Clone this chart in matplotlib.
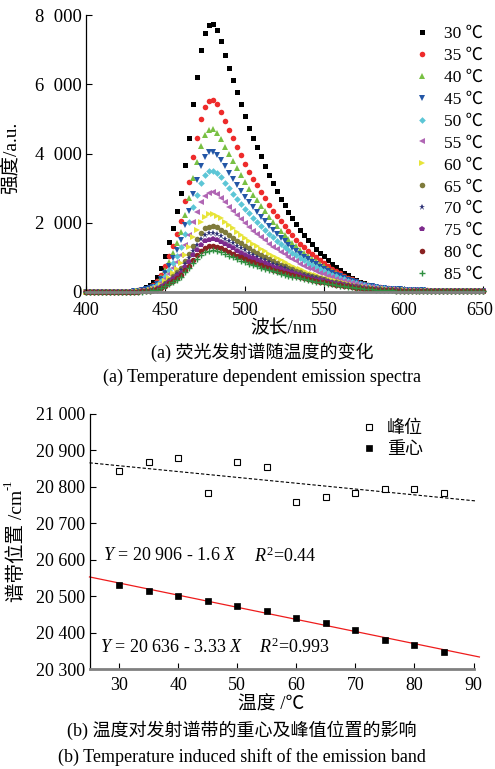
import numpy as np
import matplotlib
matplotlib.use("Agg")
import matplotlib.pyplot as plt
import matplotlib.transforms as mtransforms
from matplotlib.ticker import FuncFormatter, MultipleLocator
from matplotlib.lines import Line2D

plt.rcParams['font.family'] = ['Liberation Serif', 'Noto Sans CJK SC']
plt.rcParams['mathtext.fontset'] = 'custom'
plt.rcParams['mathtext.rm'] = 'Liberation Serif'
plt.rcParams['mathtext.it'] = 'Liberation Serif:italic'

# ---------------- data: emission spectra (wavelength grid 400..650 nm, 2.5 nm step) -------------
wl_start, wl_step = 400.0, 2.5
baseline = [12, 10, 11, 9, 12, 10, 11, 9, 10, 12, 11, 13]   # 400 - 427.5 nm

int_30 = baseline + [40, 62, 93, 140, 210, 295, 425, 700, 1045, 1435, 1860, 2325, 2870, 3680, 4455, 5425, 6200, 6975, 7480, 7710, 7750,
                     7556, 7246, 6859, 6471, 6123, 5774, 5425, 5076, 4743, 4456, 4185, 3914, 3643, 3387, 3139, 2906, 2697, 2503, 2310, 2131,
                     1961, 1798, 1651, 1511, 1380, 1256, 1139, 1031, 922, 822, 729, 643, 558, 481, 411, 349, 295, 248, 209, 178,
                     155, 132, 116, 101, 93, 85, 78, 70,
                     65, 60, 56, 52, 48, 45, 42, 40, 38, 36, 34, 32, 31, 30, 29, 28, 27, 26, 25, 24]
int_35 = baseline + [28, 44, 67, 100, 150, 211, 305, 500, 749, 1027, 1332, 1665, 2054, 2636, 3191, 3885, 4440, 4995, 5356, 5522, 5550,
                     5422, 5211, 4945, 4679, 4434, 4190, 3946, 3707, 3478, 3275, 3080, 2892, 2703, 2523, 2348, 2187, 2039, 1900, 1762, 1634,
                     1512, 1394, 1286, 1184, 1088, 997, 910, 829, 748, 673, 603, 538, 474, 415, 362, 313, 270, 232, 200, 173,
                     152, 132, 118, 103, 94, 85, 78, 70,
                     64, 59, 55, 51, 47, 44, 41, 39, 37, 35, 33, 31, 30, 29, 28, 27, 26, 25, 24, 23]
int_40 = baseline + [24, 38, 56, 85, 127, 179, 259, 423, 635, 870, 1128, 1410, 1739, 2233, 2703, 3290, 3760, 4230, 4536, 4677, 4700,
                     4597, 4423, 4202, 3981, 3776, 3572, 3368, 3170, 2979, 2808, 2644, 2486, 2329, 2178, 2030, 1896, 1772, 1655, 1537, 1429,
                     1326, 1226, 1134, 1046, 964, 885, 811, 741, 671, 605, 545, 489, 433, 382, 335, 292, 253, 219, 190, 166,
                     146, 128, 114, 101, 92, 83, 75, 68,
                     62, 57, 53, 49, 46, 43, 40, 38, 36, 34, 32, 30, 29, 28, 27, 26, 25, 24, 23, 22]
int_45 = baseline + [20, 32, 49, 73, 109, 154, 223, 365, 547, 749, 972, 1215, 1499, 1924, 2329, 2835, 3240, 3645, 3908, 4030, 4050,
                     3965, 3819, 3633, 3447, 3272, 3098, 2924, 2758, 2597, 2450, 2309, 2175, 2041, 1912, 1786, 1673, 1567, 1465, 1364, 1271,
                     1182, 1095, 1015, 939, 867, 799, 733, 671, 610, 552, 499, 450, 400, 355, 313, 275, 240, 209, 182, 160,
                     141, 124, 111, 98, 89, 80, 73, 66,
                     60, 56, 52, 48, 45, 42, 39, 37, 35, 33, 31, 30, 29, 28, 27, 26, 25, 24, 23, 22]
int_50 = baseline + [18, 28, 42, 63, 95, 133, 193, 315, 473, 648, 840, 1050, 1295, 1663, 2013, 2450, 2800, 3150, 3378, 3483, 3500,
                     3430, 3308, 3150, 2993, 2844, 2695, 2546, 2406, 2270, 2144, 2021, 1908, 1794, 1684, 1575, 1479, 1388, 1300, 1213, 1132,
                     1055, 980, 910, 844, 781, 721, 663, 609, 555, 504, 457, 413, 369, 329, 292, 257, 226, 198, 173, 152,
                     135, 119, 107, 95, 86, 77, 70, 63,
                     58, 54, 50, 47, 44, 41, 38, 36, 34, 32, 30, 29, 28, 27, 26, 25, 24, 23, 22, 21]
int_55 = baseline + [14, 23, 35, 52, 78, 109, 158, 259, 389, 533, 691, 864, 1066, 1368, 1656, 2016, 2304, 2592, 2779, 2866, 2880,
                     2824, 2724, 2596, 2468, 2347, 2225, 2103, 1990, 1878, 1775, 1674, 1581, 1488, 1398, 1309, 1231, 1156, 1084, 1012, 946,
                     882, 820, 762, 707, 655, 606, 558, 513, 468, 426, 386, 350, 314, 280, 249, 220, 194, 170, 149, 131,
                     116, 103, 92, 82, 74, 67, 60, 54,
                     50, 47, 44, 41, 38, 36, 34, 32, 30, 29, 28, 27, 26, 25, 24, 23, 22, 21, 20, 20]
int_60 = baseline + [11, 18, 27, 41, 61, 86, 124, 203, 304, 416, 540, 675, 833, 1069, 1294, 1575, 1800, 2025, 2171, 2239, 2250,
                     2207, 2131, 2032, 1933, 1838, 1744, 1649, 1562, 1476, 1395, 1316, 1244, 1172, 1102, 1033, 972, 914, 858, 801, 750,
                     700, 652, 606, 563, 522, 483, 446, 410, 374, 341, 310, 281, 252, 226, 202, 178, 157, 138, 122, 107,
                     95, 84, 76, 67, 61, 54, 50, 45,
                     42, 40, 38, 36, 34, 32, 30, 29, 28, 27, 26, 25, 24, 23, 22, 21, 20, 20, 19, 19]
int_65 = baseline + [10, 15, 23, 34, 51, 72, 105, 171, 257, 352, 456, 570, 703, 903, 1093, 1330, 1520, 1710, 1834, 1891, 1900,
                     1866, 1803, 1721, 1640, 1561, 1482, 1403, 1331, 1260, 1192, 1126, 1066, 1006, 947, 889, 839, 790, 743, 695, 652,
                     610, 568, 530, 493, 458, 425, 392, 362, 331, 302, 276, 251, 226, 203, 182, 161, 143, 126, 111, 98,
                     87, 78, 70, 62, 56, 50, 46, 41,
                     39, 37, 35, 33, 31, 30, 29, 28, 27, 26, 25, 24, 23, 22, 21, 20, 20, 19, 19, 18]
int_70 = baseline + [9, 14, 20, 31, 46, 65, 94, 153, 230, 315, 408, 510, 629, 808, 978, 1190, 1360, 1530, 1641, 1692, 1700,
                     1671, 1617, 1545, 1474, 1404, 1335, 1265, 1202, 1140, 1080, 1020, 967, 915, 863, 811, 767, 724, 681, 639, 599,
                     562, 525, 490, 457, 425, 395, 366, 338, 310, 284, 259, 236, 214, 192, 173, 154, 137, 121, 107, 95,
                     84, 75, 68, 60, 54, 49, 44, 40,
                     38, 36, 34, 32, 31, 30, 29, 28, 27, 26, 25, 24, 23, 22, 21, 20, 20, 19, 19, 18]
int_75 = baseline + [8, 12, 18, 27, 41, 58, 84, 137, 205, 281, 365, 456, 562, 722, 874, 1064, 1216, 1368, 1467, 1512, 1520,
                     1495, 1447, 1384, 1321, 1259, 1197, 1135, 1080, 1025, 971, 918, 871, 824, 778, 732, 693, 654, 616, 578, 543,
                     510, 477, 445, 415, 387, 360, 333, 308, 283, 259, 237, 217, 196, 177, 159, 142, 126, 112, 99, 88,
                     78, 70, 63, 56, 51, 45, 41, 37,
                     35, 34, 32, 31, 30, 29, 28, 27, 26, 25, 24, 23, 22, 21, 20, 20, 19, 19, 18, 18]
int_80 = baseline + [7, 11, 16, 24, 36, 51, 73, 120, 180, 246, 319, 399, 492, 632, 765, 931, 1064, 1197, 1283, 1323, 1330,
                     1309, 1267, 1213, 1158, 1105, 1051, 997, 949, 901, 855, 808, 767, 727, 687, 646, 612, 579, 546, 512, 482,
                     453, 423, 396, 369, 344, 321, 297, 275, 253, 232, 212, 194, 176, 159, 144, 128, 114, 101, 90, 80,
                     71, 63, 57, 51, 46, 41, 37, 34,
                     32, 31, 30, 29, 28, 27, 26, 25, 24, 23, 22, 21, 21, 20, 20, 19, 19, 18, 18, 17]
int_85 = baseline + [6, 10, 14, 22, 32, 46, 66, 108, 162, 222, 288, 360, 444, 570, 690, 840, 960, 1080, 1158, 1194, 1200,
                     1182, 1146, 1098, 1050, 1002, 954, 906, 864, 822, 780, 738, 702, 666, 630, 594, 564, 534, 504, 474, 446,
                     420, 394, 368, 344, 322, 300, 278, 258, 238, 218, 200, 184, 167, 151, 137, 122, 109, 97, 86, 77,
                     68, 61, 55, 49, 44, 40, 36, 32,
                     31, 30, 29, 28, 27, 26, 25, 24, 23, 22, 22, 21, 21, 20, 20, 19, 19, 18, 18, 17]

temps = [30, 35, 40, 45, 50, 55, 60, 65, 70, 75, 80, 85]
spectra = [int_30, int_35, int_40, int_45, int_50, int_55, int_60, int_65, int_70, int_75, int_80, int_85]

# ---------------- data: band position vs temperature -------------
temp_b = [30, 35, 40, 45, 50, 55, 60, 65, 70, 75, 80, 85]
peak_pos = [20843, 20868, 20880, 20783, 20868, 20855, 20759, 20771, 20783, 20795, 20795, 20783]
centroid_pos = [20530, 20513, 20501, 20487, 20474, 20459, 20440, 20427, 20407, 20380, 20367, 20346]
fit_peak = (20906, -1.6)      # Y = 20 906 - 1.6 X
fit_cent = (20636, -3.33)     # Y = 20 636 - 3.33 X

# ---------------- styles -------------
styles = [
    ('s', '#000000', 3.6), ('o', '#ee2b2b', 4.0), ('^', '#78c043', 4.2), ('v', '#2356a6', 4.2),
    ('D', '#5cc6d6', 3.4), ('<', '#b066b4', 4.2), ('>', '#e7e43a', 4.2), ('o', '#7f7b3c', 4.0),
    ('*', '#2e3276', 5.0), ('p', '#7d2a8c', 4.2), ('o', '#8a2222', 4.0), ('+', '#2f8f40', 4.5),
]

W, H = 495, 769
fig = plt.figure(figsize=(W / 100, H / 100), dpi=100)

def fx(x):
    return x / W

def fy(y):
    return 1 - y / H

FS = 13
sep = lambda v, p: f"{v:,.0f}".replace(",", " ")

# ================= top panel =================
ax1 = fig.add_axes([fx(86), fy(292), fx(483) - fx(86), fy(15) - fy(292)])
handles = []
for T, vals, (m, c, ms) in zip(temps, spectra, styles):
    wl = wl_start + wl_step * np.arange(len(vals))
    if m == '+':
        ax1.plot(wl, vals, ls='none', marker=m, color=c, ms=ms, mew=1.0, clip_on=False)
        h = Line2D([], [], ls='none', marker=m, color=c, ms=ms, mew=1.0)
    else:
        ax1.plot(wl, vals, ls='none', marker=m, color=c, ms=ms, mew=0, clip_on=False)
        h = Line2D([], [], ls='none', marker=m, color=c, ms=ms, mew=0)
    handles.append(h)

ax1.set_xlim(400, 650)
ax1.set_ylim(0, 8000)
ax1.xaxis.set_major_locator(MultipleLocator(50))
ax1.yaxis.set_major_locator(MultipleLocator(2000))
ax1.yaxis.set_major_formatter(FuncFormatter(lambda v, p: f"{v:,.0f}".replace(",", "\u2002")))
for s in ['top', 'right']:
    ax1.spines[s].set_visible(False)
ax1.spines['left'].set_linewidth(0.9)
ax1.spines['bottom'].set_color('#808080')
ax1.spines['bottom'].set_linewidth(2.0)
ax1.tick_params(direction='in', length=4, width=0.8, labelsize=13.5, pad=3)
ax1.tick_params(axis='x', pad=7, labelsize=13)
ax1.set_ylabel('强度/a.u.', fontsize=14)
ax1.yaxis.set_label_coords((20 - 86) / 397, (292 - 158) / 277)
leg = ax1.legend(handles, [f'{t} ℃' for t in temps], loc='upper left',
                 bbox_to_anchor=(fx(413), fy(26)), bbox_transform=fig.transFigure,
                 frameon=False, fontsize=12.5, handlelength=1.0, handletextpad=0.8,
                 labelspacing=0.33, borderpad=0, borderaxespad=0)

fig.text(fx(284), fy(329), '波长/nm', ha='center', va='center', fontsize=13.5)
fig.text(fx(262), fy(352), '(a) 荧光发射谱随温度的变化', ha='center', va='center', fontsize=FS)
fig.text(fx(262), fy(377), '(a) Temperature dependent emission spectra', ha='center', va='center', fontsize=FS)

# ================= bottom panel =================
ax2 = fig.add_axes([fx(89.5), fy(669), fx(473.5) - fx(89.5), fy(414) - fy(669)])
xx = np.array([25, 90.5])
ax2.plot(xx, fit_peak[0] + fit_peak[1] * xx, color='black', lw=0.8, ls=(0, (3, 1.8)), clip_on=False)
xx2 = np.array([25, 91])
ax2.plot(xx2, fit_cent[0] + fit_cent[1] * xx2, color='#ee1c1c', lw=0.9, clip_on=False)
ax2.plot(temp_b, peak_pos, ls='none', marker='s', ms=5, mfc='white', mec='black', mew=0.8, label='峰位', clip_on=False)
ax2.plot(temp_b, centroid_pos, ls='none', marker='s', ms=5, mfc='black', mec='black', mew=0.5, label='重心', clip_on=False)

ax2.set_xlim(25, 90)
ax2.set_ylim(20300, 21000)
ax2.set_xticks([30, 40, 50, 60, 70, 80, 90])
ax2.yaxis.set_major_locator(MultipleLocator(100))
ax2.yaxis.set_major_formatter(FuncFormatter(sep))
for s in ['top', 'right']:
    ax2.spines[s].set_visible(False)
ax2.spines['left'].set_linewidth(0.9)
ax2.spines['bottom'].set_color('#808080')
ax2.spines['bottom'].set_linewidth(2.0)
ax2.tick_params(direction='in', length=4, width=0.8, labelsize=FS, pad=3)
ax2.tick_params(axis='x', pad=6)
ax2.legend(loc='upper left', bbox_to_anchor=(fx(360), fy(420)), bbox_transform=fig.transFigure,
           frameon=False, fontsize=FS, handlelength=1.0, handletextpad=0.5,
           labelspacing=0.22, borderpad=0, borderaxespad=0)

# y label: Chinese text plus superscript "-1"
ylab = fig.text(fx(17), fy(546), '谱带位置 /cm', rotation=90, ha='center', va='center', fontsize=14)
fig.canvas.draw()
ax2.annotate('-1', xy=(0.05, 1.0), xycoords=ylab, rotation=90, ha='center', va='bottom',
             fontsize=9, annotation_clip=False)

# keep the last top x tick label ("650") inside the canvas
shift = mtransforms.ScaledTranslation(-3 / 100, 0, fig.dpi_scale_trans)
for lbl in ax1.get_xticklabels():
    if lbl.get_text() == '650':
        lbl.set_transform(lbl.get_transform() + shift)

fig.text(fx(103), fy(556), r'$Y$ = 20 906 - 1.6 $X$', ha='left', va='center', fontsize=FS)
fig.text(fx(254), fy(556), r'$R^{2}$=0.44', ha='left', va='center', fontsize=FS)
fig.text(fx(100), fy(647), r'$Y$ = 20 636 - 3.33 $X$', ha='left', va='center', fontsize=FS)
fig.text(fx(259), fy(647), r'$R^{2}$=0.993', ha='left', va='center', fontsize=FS)

fig.text(fx(271), fy(705), '温度 /℃', ha='center', va='center', fontsize=13.5)
fig.text(fx(242), fy(730), '(b) 温度对发射谱带的重心及峰值位置的影响', ha='center', va='center', fontsize=FS)
fig.text(fx(242), fy(757), '(b) Temperature induced shift of the emission band', ha='center', va='center', fontsize=FS)

fig.savefig('out.png', dpi=100)
